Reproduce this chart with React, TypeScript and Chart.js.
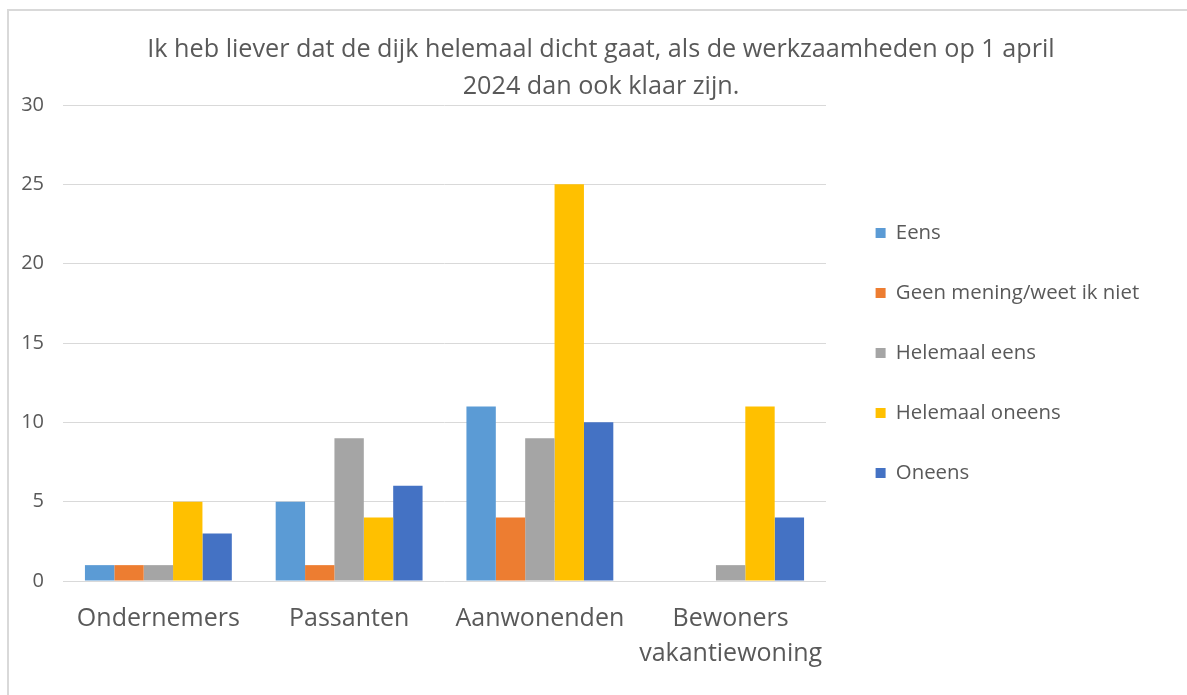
import React, { useEffect, useRef } from "react";
import { Chart, registerables } from "chart.js";

Chart.register(...registerables);

const titleLines = [
  "Ik heb liever dat de dijk helemaal dicht gaat, als de werkzaamheden op 1 april",
  "2024 dan ook klaar zijn.",
];
const categories: (string | string[])[] = [
  "Ondernemers",
  "Passanten",
  "Aanwonenden",
  ["Bewoners", "vakantiewoning"],
];
const seriesNames = [
  "Eens",
  "Geen mening/weet ik niet",
  "Helemaal eens",
  "Helemaal oneens",
  "Oneens",
];
const eens = [1, 5, 11, 0];
const geenMening = [1, 1, 4, 0];
const helemaalEens = [1, 9, 9, 1];
const helemaalOneens = [5, 4, 25, 11];
const oneens = [3, 6, 10, 4];
const seriesColors = ["#5B9BD5", "#ED7D31", "#A5A5A5", "#FFC000", "#4472C4"];
const yMin = 0;
const yMax = 30;
const yStep = 5;

const FONT = "'Open Sans', Lato, sans-serif";
const TEXT = "#595959";

const CANVAS_W = 1178;
const CANVAS_H = 684;
const PLOT_LEFT = 54;
const PLOT_RIGHT = 817;
const PLOT_TOP = 94;
const PLOT_BOTTOM = 570;
const LEGEND_GAP = 10;
const LEGEND_FONT = 20.4;
const LEGEND_PAD = 39.6;
const LEGEND_BOX = 10;

export default function App() {
  const ref = useRef<HTMLCanvasElement | null>(null);

  useEffect(() => {
    if (!ref.current) return;
    const values = [eens, geenMening, helemaalEens, helemaalOneens, oneens];

    const mctx = document.createElement("canvas").getContext("2d")!;
    mctx.font = `${LEGEND_FONT}px ${FONT}`;
    const textW = Math.max(...seriesNames.map((n) => mctx.measureText(n).width));
    const legendW = LEGEND_PAD + LEGEND_BOX + LEGEND_FONT / 2 + textW + 10;
    const padRight = Math.max(0, CANVAS_W - (PLOT_RIGHT + LEGEND_GAP + legendW));

    const chart = new Chart(ref.current, {
      type: "bar",
      data: {
        labels: categories,
        datasets: seriesNames.map((name, i) => ({
          label: name,
          data: values[i],
          backgroundColor: seriesColors[i],
          borderWidth: 0,
          categoryPercentage: 0.77,
          barPercentage: 1,
          xAxisID: "x",
          yAxisID: "y",
        })),
      },
      options: {
        responsive: false,
        animation: false,
        layout: { padding: { left: 0, right: padRight, top: 0, bottom: 0 } },
        plugins: {
          title: { display: false },
          legend: {
            display: true,
            position: "right",
            maxWidth: 1000,
            labels: {
              color: TEXT,
              font: { family: FONT, size: LEGEND_FONT },
              boxWidth: LEGEND_BOX,
              boxHeight: LEGEND_BOX,
              padding: LEGEND_PAD,
            },
          },
          tooltip: { enabled: false },
        },
        scales: {
          x: {
            position: "bottom",
            grid: { display: false, drawTicks: false },
            border: { display: false },
            ticks: {
              color: TEXT,
              font: { family: FONT, size: 25, lineHeight: 1.4 },
              padding: 20,
              maxRotation: 0,
              autoSkip: false,
            },
            afterFit: (scale: any) => {
              scale.height = CANVAS_H - PLOT_BOTTOM;
            },
          },
          titleSpace: {
            type: "linear",
            position: "top",
            display: true,
            grid: { display: false, drawTicks: false },
            border: { display: false },
            ticks: { display: false },
            afterFit: (scale: any) => {
              scale.height = PLOT_TOP;
            },
          },
          y: {
            min: yMin,
            max: yMax,
            grid: { color: "#D9D9D9", lineWidth: 1, drawTicks: false },
            border: { display: false },
            ticks: {
              stepSize: yStep,
              color: TEXT,
              font: { family: FONT, size: 20 },
              padding: 19,
            },
            afterFit: (scale: any) => {
              scale.width = PLOT_LEFT;
            },
          },
          legendGap: {
            type: "linear",
            position: "right",
            display: true,
            grid: { display: false, drawTicks: false },
            border: { display: false },
            ticks: { display: false },
            afterFit: (scale: any) => {
              scale.width = LEGEND_GAP;
            },
          },
        },
      },
    });
    return () => chart.destroy();
  }, []);

  return (
    <div
      style={{
        position: "fixed",
        left: 7,
        top: 9,
        width: 1200,
        height: 700,
        borderLeft: "2px solid #D9D9D9",
        borderTop: "2px solid #D9D9D9",
        background: "#fff",
        overflow: "hidden",
      }}
    >
      <canvas
        ref={ref}
        width={CANVAS_W}
        height={CANVAS_H}
        style={{ display: "block", position: "absolute", left: 0, top: 0 }}
      />
      <div
        style={{
          position: "absolute",
          left: 0,
          top: 18,
          width: 1184,
          textAlign: "center",
          fontFamily: FONT,
          fontSize: 25.2,
          lineHeight: "37px",
          color: TEXT,
          whiteSpace: "nowrap",
        }}
      >
        {titleLines.map((line, i) => (
          <div key={i}>{line}</div>
        ))}
      </div>
    </div>
  );
}
